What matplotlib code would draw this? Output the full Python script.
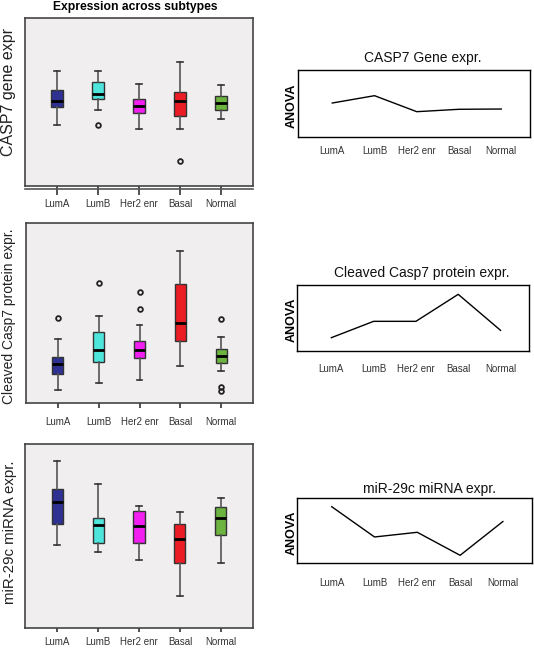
import matplotlib
matplotlib.use("Agg")
import matplotlib.pyplot as plt

plt.rcParams['font.family'] = ['Liberation Sans', 'DejaVu Sans']

subtypes = ["LumA", "LumB", "Her2 enr", "Basal", "Normal"]
colors = ["#2e3192", "#4ee6dc", "#f21ff0", "#ec1c24", "#6cb33f"]

# Panel 1: CASP7 gene expression (box statistics)
gene_whishi = [6.86, 6.86, 6.09, 7.38, 5.99]
gene_q3 = [5.70, 6.20, 5.19, 5.60, 5.37]
gene_med = [5.05, 5.50, 4.79, 5.05, 4.97]
gene_q1 = [4.69, 5.19, 4.36, 4.18, 4.54]
gene_whislo = [3.63, 4.50, 3.39, 3.41, 3.98]
gene_fliers = [[], [3.61], [], [1.48], []]

# Panel 2: cleaved Casp7 protein expression
prot_whishi = [3.53, 4.83, 4.33, 8.47, 3.68]
prot_q3 = [2.55, 3.96, 3.46, 6.60, 2.98]
prot_med = [2.17, 2.95, 2.95, 4.43, 2.59]
prot_q1 = [1.60, 2.25, 2.47, 3.42, 2.20]
prot_whislo = [0.69, 1.08, 1.27, 2.05, 1.78]
prot_fliers = [[4.70], [6.66], [6.19, 5.22], [], [4.65, 0.88, 0.65]]

# Panel 3: miR-29c miRNA expression
mir_whishi = [9.11, 7.84, 6.65, 6.31, 7.09]
mir_q3 = [7.56, 5.98, 6.40, 5.69, 6.58]
mir_med = [6.88, 5.62, 5.55, 4.86, 6.00]
mir_q1 = [5.69, 4.62, 4.64, 3.54, 5.06]
mir_whislo = [4.55, 4.13, 3.70, 1.75, 3.54]
mir_fliers = [[], [], [], [], []]

# ANOVA profile lines (right column)
anova_gene = [5.05, 6.15, 3.75, 4.11, 4.15]
anova_prot = [1.98, 4.47, 4.47, 8.58, 3.10]
anova_mir = [8.71, 4.05, 4.77, 1.23, 6.43]

W, H = 534, 648
fig = plt.figure(figsize=(W / 100, H / 100), dpi=100)


def rect(l, t, r, b):
    return [l / W, 1 - b / H, (r - l) / W, (b - t) / H]


def box_panel(r, whishi, q3, med, q1, whislo, fliers, tick_len, pad, double=False):
    ax = fig.add_axes(rect(*r))
    stats = []
    for i in range(len(subtypes)):
        stats.append(dict(med=med[i], q1=q1[i], q3=q3[i], whislo=whislo[i],
                          whishi=whishi[i], fliers=fliers[i], label=subtypes[i]))
    pos = list(range(1, len(subtypes) + 1))
    bp = ax.bxp(stats, positions=pos, widths=0.27, capwidths=0.14,
                patch_artist=True, showfliers=True,
                boxprops=dict(edgecolor="#333333", linewidth=1.0),
                medianprops=dict(color="black", linewidth=2.0),
                whiskerprops=dict(color="#555555", linewidth=1.2),
                capprops=dict(color="#333333", linewidth=1.2),
                flierprops=dict(marker="o", markersize=3.4, markerfacecolor="none",
                                markeredgecolor="#222222", markeredgewidth=1.3))
    for patch, c in zip(bp["boxes"], colors):
        patch.set_facecolor(c)
    ax.set_xlim(0.22, 5.78)
    ax.set_ylim(0, 10)
    ax.set_facecolor("#f0eeee")
    for s in ax.spines.values():
        s.set_color("#444444")
        s.set_linewidth(1.2)
    ax.set_yticks([])
    ax.set_xticks(pos)
    ax.set_xticklabels(subtypes, fontsize=7, color="#333333")
    ax.tick_params(axis="x", length=tick_len, width=1.2, color="#333333", pad=pad)
    if double:
        ax.plot([0, 1], [-0.018, -0.018], transform=ax.transAxes, clip_on=False,
                color="#555555", lw=1.2)
    return ax


def line_panel(r, vals, title, title_x, title_gap, pad):
    ax = fig.add_axes(rect(*r))
    pos = list(range(1, len(subtypes) + 1))
    ax.plot(pos, vals, color="black", lw=1.0)
    ax.set_xlim(0.196, 5.68)
    ax.set_ylim(0, 10)
    ax.set_yticks([])
    ax.set_xticks(pos)
    ax.set_xticklabels(subtypes, fontsize=7, color="#333333")
    ax.tick_params(axis="x", length=0, pad=pad)
    for s in ax.spines.values():
        s.set_color("black")
        s.set_linewidth(1.0)
    l, t, rr, b = r
    fig.text(title_x / W, 1 - (t - title_gap) / H, title, ha="center", va="center",
             fontsize=10, color="#111111")
    fig.text(292 / W, 1 - ((t + b) / 2 + 2) / H, "ANOVA", rotation=90, ha="center",
             va="center", fontsize=9, fontweight="bold")
    return ax


box_panel((25, 18, 253, 186), gene_whishi, gene_q3, gene_med, gene_q1, gene_whislo,
          gene_fliers, 6.5, 3, double=True)
box_panel((26, 223.3, 253, 402.7), prot_whishi, prot_q3, prot_med, prot_q1, prot_whislo,
          prot_fliers, 3.8, 6.5)
box_panel((25.3, 444.3, 252.7, 628.3), mir_whishi, mir_q3, mir_med, mir_q1, mir_whislo,
          mir_fliers, 3.0, 3.2)

fig.text(135 / W, 1 - 7 / H, "Expression across subtypes", ha="center", va="center",
         fontsize=8.7, fontweight="bold")
fig.text(9 / W, 1 - 92.5 / H, "CASP7 gene expr", rotation=90, ha="center", va="center",
         fontsize=11.5, color="#222222")
fig.text(9 / W, 1 - 316 / H, "Cleaved Casp7 protein expr.", rotation=90, ha="center",
         va="center", fontsize=10, color="#222222")
fig.text(10 / W, 1 - 532.5 / H, "miR-29c miRNA expr.", rotation=90, ha="center",
         va="center", fontsize=10.8, color="#222222")

line_panel((298.3, 70, 530, 136.7), anova_gene, "CASP7 Gene expr.", 422.7, 12, 6.5)
line_panel((297.3, 285, 529.3, 350.7), anova_prot, "Cleaved Casp7 protein expr.", 421.7, 12.3, 9.5)
line_panel((297.3, 498.3, 532, 563.3), anova_mir, "miR-29c miRNA expr.", 429.3, 9, 10.5)

fig.savefig("out.png", dpi=100, facecolor="white")
